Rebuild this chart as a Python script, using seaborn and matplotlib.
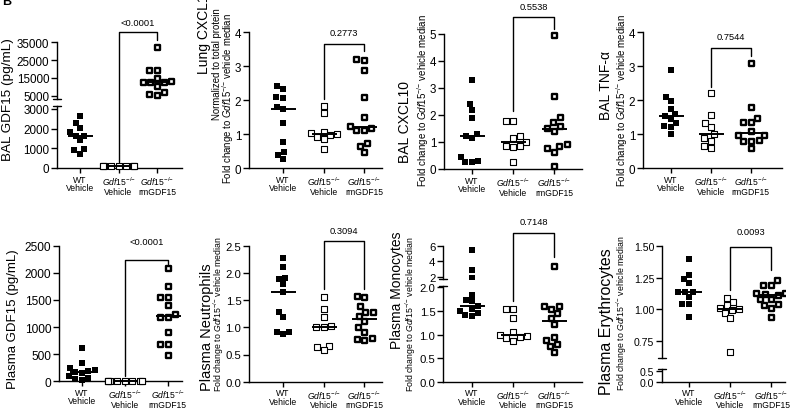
import warnings
warnings.filterwarnings("ignore")
import numpy as np
import pandas as pd
import matplotlib
matplotlib.use("Agg")
import matplotlib.pyplot as plt
from matplotlib.lines import Line2D
from matplotlib.ticker import FormatStrFormatter
import seaborn as sns

sns.set_style("ticks")
plt.rcParams["font.family"] = ["Liberation Sans", "DejaVu Sans"]
plt.rcParams.update({
    "mathtext.fontset": "custom",
    "mathtext.rm": "Liberation Sans",
    "mathtext.it": "Liberation Sans:italic",
    "mathtext.bf": "Liberation Sans:bold",
    "axes.edgecolor": "black", "xtick.color": "black", "ytick.color": "black",
    "text.color": "black", "axes.labelcolor": "black",
})

# ---------------- data ----------------
groups = ["WT Vehicle", "Gdf15-/- Vehicle", "Gdf15-/- rmGDF15"]
GDF = r"$\mathit{Gdf15}^{{-}/{-}}$"
tick_labels = ["WT\nVehicle", GDF + "\nVehicle", GDF + "\nrmGDF15"]
FOLD = "Fold change to " + GDF + " vehicle median"

bal_gdf15_wt = [2650, 2280, 2020, 1820, 1650, 1650, 1400, 980, 890, 720]
bal_gdf15_ko = [100, 100, 100, 100, 100, 100, 100, 100, 100]
bal_gdf15_rm = [32200, 19700, 19300, 14900, 13100, 12900, 12500, 12500, 10300, 7200, 5900, 5100]

lung_cxcl10_wt = [2.41, 2.33, 2.09, 2.07, 1.79, 1.75, 1.33, 0.78, 0.47, 0.39, 0.27]
lung_cxcl10_ko = [1.84, 1.63, 1.08, 1.05, 1.00, 0.97, 0.93, 0.86, 0.57]
lung_cxcl10_rm = [3.22, 3.20, 2.89, 2.10, 1.50, 1.25, 1.19, 1.13, 1.12, 0.75, 0.66, 0.47]

bal_cxcl10_wt = [3.31, 2.42, 2.19, 1.88, 1.30, 1.23, 1.15, 0.45, 0.31, 0.27, 0.25]
bal_cxcl10_ko = [1.77, 1.77, 1.23, 1.14, 1.00, 0.85, 0.84, 0.80, 0.25]
bal_cxcl10_rm = [4.96, 2.69, 1.91, 1.75, 1.60, 1.51, 1.42, 0.93, 0.84, 0.78, 0.64, 0.12]

bal_tnf_wt = [2.89, 2.09, 1.97, 1.74, 1.60, 1.53, 1.45, 1.32, 1.24, 1.21, 1.01]
bal_tnf_ko = [2.21, 1.57, 1.33, 1.21, 1.00, 0.89, 0.81, 0.66, 0.59]
bal_tnf_rm = [3.09, 1.79, 1.48, 1.35, 1.35, 1.11, 0.98, 0.98, 0.83, 0.81, 0.81, 0.59]

pl_gdf15_wt = [610, 340, 240, 215, 190, 170, 160, 100, 60, 40, 15]
pl_gdf15_ko = [10, 10, 10, 10, 10, 10, 10, 10, 10, 10]
pl_gdf15_rm = [2080, 1750, 1550, 1550, 1400, 1240, 1180, 1180, 900, 680, 680, 490]

neut_wt = [2.28, 2.10, 1.90, 1.88, 1.79, 1.65, 1.28, 1.19, 0.92, 0.92, 0.88]
neut_ko = [1.55, 1.34, 1.19, 1.02, 1.00, 1.00, 0.66, 0.63, 0.58]
neut_rm = [1.58, 1.56, 1.39, 1.29, 1.29, 1.21, 1.11, 1.00, 0.91, 0.80, 0.78, 0.76]

mono_wt = [5.48, 2.90, 1.84, 1.73, 1.70, 1.61, 1.55, 1.50, 1.45, 1.42, 1.40]
mono_ko = [1.55, 1.55, 1.36, 1.06, 1.00, 0.97, 0.94, 0.92, 0.87]
mono_rm = [3.43, 1.61, 1.60, 1.54, 1.45, 1.36, 1.22, 0.94, 0.89, 0.80, 0.75, 0.62]

ery_wt = [1.40, 1.27, 1.24, 1.21, 1.14, 1.14, 1.14, 1.10, 1.04, 1.04, 0.94]
ery_ko = [1.09, 1.06, 1.03, 1.01, 1.00, 0.99, 0.97, 0.93, 0.66]
ery_rm = [1.23, 1.19, 1.19, 1.13, 1.13, 1.12, 1.11, 1.08, 1.08, 1.04, 1.03, 1.01, 0.94]

# ---------------- layout helpers ----------------
W, H = 800, 410
fig = plt.figure(figsize=(W / 100, H / 100), dpi=100)


def rect(l, r, t, b):
    return [l / W, 1 - b / H, (r - l) / W, (b - t) / H]


styles = {
    groups[0]: dict(color="black", edgecolor="black", linewidth=0, size=4.6),
    groups[1]: dict(color="white", edgecolor="black", linewidth=0.8, size=4.3),
    groups[2]: dict(color="white", edgecolor="black", linewidth=1.7, size=3.6),
}


def draw_groups(ax, wt, ko, rm, ylim=None):
    vals = list(wt) + list(ko) + list(rm)
    grp = [groups[0]] * len(wt) + [groups[1]] * len(ko) + [groups[2]] * len(rm)
    df = pd.DataFrame({"group": grp, "value": vals})
    shown = df
    keep = list(groups)
    if ylim is not None:
        shown = df[(df["value"] >= ylim[0]) & (df["value"] <= ylim[1])]
        med = df.groupby("group")["value"].median()
        keep = [g for g in groups if ylim[0] <= med[g] <= ylim[1]]
    for g in groups:
        sub = shown[shown["group"] == g]
        if len(sub) == 0:
            continue
        sns.swarmplot(data=sub, x="group", y="value", order=groups,
                      marker="s", ax=ax, zorder=3, **styles[g])
    if keep:
        sns.pointplot(data=df[df["group"].isin(keep)], x="group", y="value", order=groups,
                      estimator="median", errorbar=None, color="black", marker="_",
                      markersize=18, markeredgewidth=1.4, linestyle="none", ax=ax, zorder=4)


panels = [
    dict(x=(57, 182), xlim=(-0.6, 2.65),
         segs=[dict(t=43.3, b=99.7, ylim=(3300, 35000), ticks=[5000, 15000, 25000, 35000], fmt="%d"),
               dict(t=107.05, b=173.3, ylim=(-220, 3150), ticks=[0, 1000, 2000, 3000], fmt="%d", zero=True)],
         data=(bal_gdf15_wt, bal_gdf15_ko, bal_gdf15_rm),
         br=((0, 40800), (1, 300), (0, 36300)), p="<0.0001", py=24,
         ylab=[("BAL GDF15 (pg/mL)", 8, 100, 9.7)], yfs=8.4),
    dict(x=(249, 382), xlim=(-0.84, 2.44),
         segs=[dict(t=33.3, b=169.3, ylim=(0, 4), ticks=[0, 1, 2, 3, 4], fmt="%d")],
         data=(lung_cxcl10_wt, lung_cxcl10_ko, lung_cxcl10_rm),
         br=((0, 3.65), (0, 2.04), (0, 3.45)), p="0.2773", py=34,
         ylab=[("Lung CXCL10", 204, 30, 10), ("Normalized to total protein", 217.3, 64, 6.9),
               (FOLD, 228.3, 98, 6.9)], yfs=8.4),
    dict(x=(444, 582), xlim=(-0.68, 2.68),
         segs=[dict(t=35, b=170, ylim=(0, 5), ticks=[0, 1, 2, 3, 4, 5], fmt="%d")],
         data=(bal_cxcl10_wt, bal_cxcl10_ko, bal_cxcl10_rm),
         br=((0, 5.62), (0, 2.16), (0, 5.19)), p="0.5538", py=8,
         ylab=[("BAL CXCL10", 405, 122, 10), (FOLD, 423, 100, 7)], yfs=8.4),
    dict(x=(643, 782), xlim=(-0.7, 2.78),
         segs=[dict(t=33.3, b=169.3, ylim=(0, 4), ticks=[0, 1, 2, 3, 4], fmt="%d")],
         data=(bal_tnf_wt, bal_tnf_ko, bal_tnf_rm),
         br=((0, 3.54), (0, 2.38), (0, 3.29)), p="0.7544", py=38,
         ylab=[("BAL TNF-α", 606, 85, 10), (FOLD, 622, 100, 7)], yfs=8.4),
    dict(x=(59, 182), xlim=(-0.53, 2.33),
         segs=[dict(t=246.7, b=382.3, ylim=(0, 2500), ticks=[0, 500, 1000, 1500, 2000, 2500], fmt="%d")],
         data=(pl_gdf15_wt, pl_gdf15_ko, pl_gdf15_rm),
         br=((0, 2236), (0, 100), (0, 2163)), p="<0.0001", py=243,
         ylab=[("Plasma GDF15 (pg/mL)", 13, 319, 9.5)], yfs=8.6),
    dict(x=(249, 382), xlim=(-0.84, 2.44),
         segs=[dict(t=246.7, b=382.7, ylim=(0, 2.5), ticks=[0, 0.5, 1, 1.5, 2, 2.5], fmt="%.1f")],
         data=(neut_wt, neut_ko, neut_rm),
         br=((0, 2.59), (0, 1.71), (0, 1.71)), p="0.3094", py=232,
         ylab=[("Plasma Neutrophils", 206.5, 327, 10.5), (FOLD, 219.3, 314, 6.3)], yfs=8.2),
    dict(x=(443, 582), xlim=(-0.71, 2.68),
         segs=[dict(t=247, b=279.6, ylim=(1.75, 6), ticks=[2, 4, 6], fmt="%d"),
               dict(t=286.9, b=382.7, ylim=(0, 2.03), ticks=[0, 0.5, 1, 1.5, 2], fmt="%.1f")],
         data=(mono_wt, mono_ko, mono_rm),
         br=((0, 7.66), (1, 1.70), (0, 4.53)), p="0.7148", py=223,
         ylab=[("Plasma Monocytes", 397, 290, 10), (FOLD, 410.5, 314, 6.3)], yfs=8.2),
    dict(x=(662, 785), xlim=(-0.66, 2.34),
         segs=[dict(t=247.3, b=359.3, ylim=(0.61, 1.5), ticks=[0.75, 1.0, 1.25, 1.5], fmt="%.2f"),
               dict(t=369.5, b=382.7, ylim=(0, 0.6), ticks=[0, 0.5], fmt="%.1f")],
         data=(ery_wt, ery_ko, ery_rm),
         br=((0, 1.494), (0, 1.15), (0, 1.31)), p="0.0093", py=233,
         ylab=[("Plasma Erythrocytes", 607, 322, 11.5), (FOLD, 622, 313, 6.3)], yfs=7.6),
]

inv = fig.transFigure.inverted()

for P in panels:
    l, r = P["x"]
    axes = []
    nseg = len(P["segs"])
    for i, S in enumerate(P["segs"]):
        ax = fig.add_axes(rect(l, r, S["t"], S["b"]))
        ax.set_facecolor("none")
        draw_groups(ax, *P["data"], ylim=S["ylim"] if nseg > 1 else None)
        if S.get("zero"):
            ax.spines["bottom"].set_position(("data", 0))
            ax.spines["left"].set_bounds(0, S["ylim"][1])
        ax.set_xlim(*P["xlim"])
        ax.set_ylim(*S["ylim"])
        ax.set_yticks(S["ticks"])
        ax.yaxis.set_major_formatter(FormatStrFormatter(S["fmt"]))
        ax.set_xlabel("")
        ax.set_ylabel("")
        ax.spines["right"].set_visible(False)
        ax.spines["top"].set_visible(False)
        for s in ("left", "bottom"):
            ax.spines[s].set_linewidth(1.0)
        ax.tick_params(axis="y", length=4, width=1.0, pad=1.5, labelsize=P["yfs"])
        if i == nseg - 1:
            ax.set_xticks([0, 1, 2])
            ax.set_xticklabels(tick_labels, fontsize=6.2, linespacing=0.95)
            ax.tick_params(axis="x", length=3.5, width=1.0, pad=1.2)
        else:
            ax.spines["bottom"].set_visible(False)
            ax.tick_params(axis="x", bottom=False, labelbottom=False)
        if nseg == 1:
            for art in list(ax.collections) + list(ax.lines):
                art.set_clip_on(False)
        axes.append(ax)
    # axis break marks
    if nseg > 1:
        for yb in (P["segs"][0]["b"], P["segs"][1]["t"]):
            fig.add_artist(Line2D([(l - 4) / W, (l + 4) / W], [1 - yb / H] * 2,
                                  color="black", lw=1.0, transform=fig.transFigure))
    # significance bracket
    (it, yt), (il, yl), (ir, yr) = P["br"]
    pts = np.array([axes[il].transData.transform((1, yl)),
                    axes[it].transData.transform((1, yt)),
                    axes[it].transData.transform((2, yt)),
                    axes[ir].transData.transform((2, yr))])
    f = inv.transform(pts)
    fig.add_artist(Line2D(f[:, 0], f[:, 1], color="black", lw=1.0, transform=fig.transFigure))
    fig.text(f[1:3, 0].mean(), 1 - P["py"] / H, P["p"], ha="center", va="center", fontsize=6.7)
    # y labels
    for txt, xp, yp, fs in P["ylab"]:
        fig.text(xp / W, 1 - yp / H, txt, rotation=90, ha="center", va="center",
                 rotation_mode="anchor", fontsize=fs)

fig.text(0.003, 0.995, "B", fontsize=9, fontweight="bold", ha="left", va="center")

fig.savefig("out.png", dpi=100)
